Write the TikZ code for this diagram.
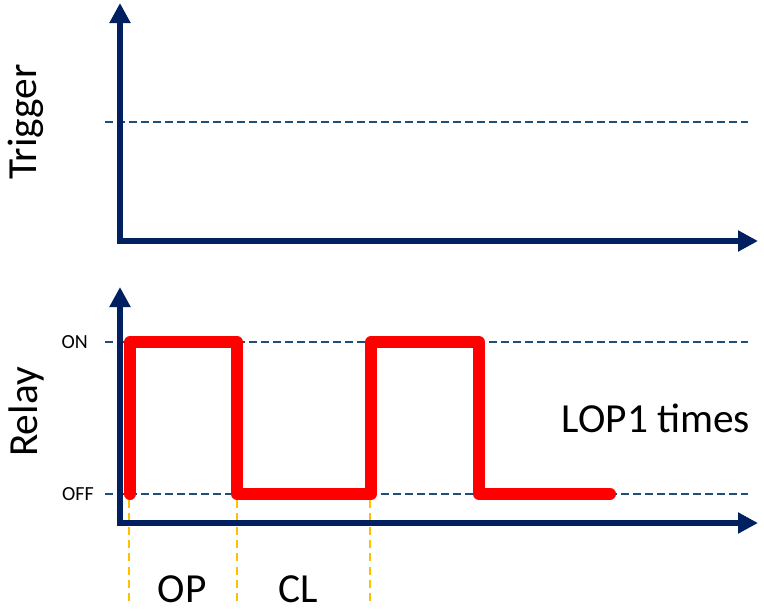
\documentclass[tikz,border=0pt]{standalone}
\usepackage{fontspec}
\setmainfont{Carlito}
\usetikzlibrary{arrows.meta}
\definecolor{navy}{HTML}{002060}
\definecolor{gridblue}{HTML}{1F4E79}
\definecolor{sigred}{HTML}{FF0000}
\definecolor{markorange}{HTML}{FFC000}
\tikzset{
  axis/.style={navy, line width=4.5pt, {Triangle[length=15pt,width=15pt]}-{Triangle[length=15pt,width=15pt]}},
  level/.style={gridblue, line width=1.4pt, dash pattern=on 6pt off 3pt},
  signal/.style={sigred, line width=9pt, line cap=round, line join=round},
  marker/.style={markorange, line width=1.1pt, dash pattern=on 6pt off 4pt},
  biglabel/.style={font=\fontsize{31pt}{37pt}\selectfont, inner sep=0pt},
  smalllabel/.style={font=\fontsize{15pt}{18pt}\selectfont, inner sep=0pt}
}
\begin{document}
\begin{tikzpicture}[x=0.75pt,y=-0.75pt]
  \useasboundingbox (0,0) rectangle (764,611);
  \fill[white] (0,0) rectangle (764,611);

  % Trigger panel
  \draw[level] (105,122) -- (748,122);
  \draw[axis] (120,3) -- (120,241) -- (758,241);
  \node[biglabel, rotate=90] (trig) at (26,122) {Trigger};

  % Relay panel
  \draw[level] (105,342) -- (748,342);
  \draw[level] (105,494) -- (748,494);
  \draw[marker] (129,500) -- (129,606);
  \draw[marker] (237,500) -- (237,606);
  \draw[marker] (370,500) -- (370,606);
  \draw[axis] (120,287) -- (120,523) -- (758,523);
  \node[biglabel, rotate=90] (relay) at (26,412) {Relay};
  \node[smalllabel, anchor=east] (on) at (88,342) {ON};
  \node[smalllabel, anchor=east] (off) at (94,494) {OFF};

  % relay output waveform
  \draw[signal] (130,494) -- (130,342) -- (237,342) -- (237,494) -- (371,494)
    -- (371,342) -- (479,342) -- (479,494) -- (610,494);

  \node[biglabel] (times) at (656,418) {LOP1 times};
  \node[biglabel] (op) at (182,589) {OP};
  \node[biglabel] (cl) at (298,589) {CL};
\end{tikzpicture}
\end{document}
